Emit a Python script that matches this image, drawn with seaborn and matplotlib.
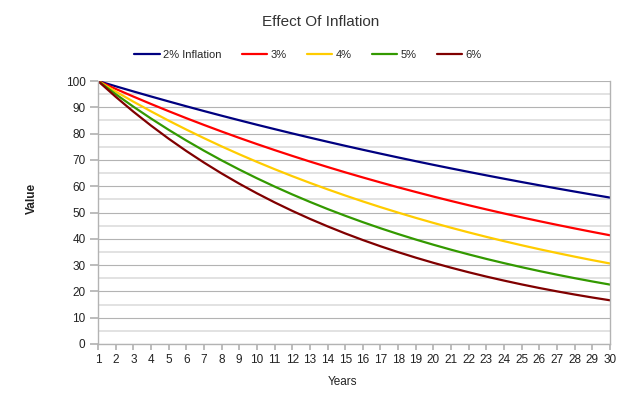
import matplotlib
matplotlib.use("Agg")
import matplotlib.pyplot as plt
import seaborn as sns
import pandas as pd

years = list(range(1, 31))
series_names = ["2% Inflation", "3%", "4%", "5%", "6%"]
infl_2 = [100, 98.0, 96.04, 94.12, 92.24, 90.39, 88.58, 86.81, 85.08, 83.37,
          81.71, 80.07, 78.47, 76.90, 75.36, 73.86, 72.38, 70.93, 69.51, 68.12,
          66.76, 65.43, 64.12, 62.84, 61.58, 60.35, 59.14, 57.96, 56.80, 55.67]
infl_3 = [100, 97.0, 94.09, 91.27, 88.53, 85.87, 83.30, 80.80, 78.37, 76.02,
          73.74, 71.53, 69.38, 67.30, 65.28, 63.33, 61.43, 59.58, 57.80, 56.06,
          54.38, 52.75, 51.17, 49.63, 48.14, 46.70, 45.30, 43.94, 42.62, 41.34]
infl_4 = [100, 96.0, 92.16, 88.47, 84.93, 81.54, 78.28, 75.14, 72.14, 69.25,
          66.48, 63.82, 61.27, 58.82, 56.47, 54.21, 52.04, 49.96, 47.96, 46.04,
          44.20, 42.43, 40.73, 39.10, 37.54, 36.04, 34.60, 33.21, 31.88, 30.61]
infl_5 = [100, 95.0, 90.25, 85.74, 81.45, 77.38, 73.51, 69.83, 66.34, 63.02,
          59.87, 56.88, 54.04, 51.33, 48.77, 46.33, 44.01, 41.81, 39.72, 37.74,
          35.85, 34.06, 32.35, 30.74, 29.20, 27.74, 26.35, 25.03, 23.78, 22.59]
infl_6 = [100, 94.0, 88.36, 83.06, 78.07, 73.39, 68.99, 64.85, 60.96, 57.30,
          53.86, 50.63, 47.59, 44.74, 42.05, 39.53, 37.16, 34.93, 32.83, 30.86,
          29.01, 27.27, 25.63, 24.10, 22.65, 21.29, 20.01, 18.81, 17.68, 16.62]
colors = ["#000080", "#ff0000", "#ffcc00", "#339900", "#800000"]

sns.set_theme(style="white")
plt.rcParams["font.family"] = ["Liberation Sans", "DejaVu Sans"]

rows = []
for name, vals in zip(series_names, [infl_2, infl_3, infl_4, infl_5, infl_6]):
    for y, v in zip(years, vals):
        rows.append({"Years": y, "Value": v, "Series": name})
df = pd.DataFrame(rows)

fig = plt.figure(figsize=(6.39, 3.96), dpi=100)
ax = fig.add_axes([98/639, 1-344/396, (610-98)/639, (344-81)/396])

sns.lineplot(data=df, x="Years", y="Value", hue="Series", hue_order=series_names,
             palette=colors, linewidth=1.6, ax=ax)

ax.set_xlim(1, 30)
ax.set_ylim(0, 100)
ax.set_xticks(years)
ax.set_yticks(range(0, 101, 10))
ax.set_yticks(range(5, 100, 10), minor=True)
ax.grid(True, axis="y", which="major", color="#b3b3b3", linewidth=0.8)
ax.grid(True, axis="y", which="minor", color="#dddddd", linewidth=1.2)
ax.set_axisbelow(True)
for side in ["left", "right", "bottom"]:
    ax.spines[side].set_color("#b3b3b3")
    ax.spines[side].set_linewidth(1.0)
ax.spines["top"].set_visible(False)
ax.tick_params(axis="x", which="major", direction="out", length=4, color="#b3b3b3",
               labelsize=8.5, labelcolor="#222222", pad=3, bottom=True)
ax.tick_params(axis="y", which="major", direction="out", length=6, color="#b3b3b3",
               labelsize=8.5, labelcolor="#222222", pad=3, left=True)
ax.tick_params(axis="y", which="minor", left=False)

ax.set_xlabel("Years", fontsize=8.5, color="#222222")
ax.xaxis.set_label_coords((342-98)/(610-98), -32/263)
ax.set_ylabel("Value", fontsize=8.5, fontweight="bold", color="#222222")
ax.yaxis.set_label_coords(-60/512, (344-198)/263)

fig.text(321/639, 1-22/396, "Effect Of Inflation", ha="center", va="center",
         fontsize=11, color="#333333")

sns.move_legend(ax, "center", bbox_to_anchor=(308/639, 1-55/396),
                bbox_transform=fig.transFigure, ncol=5, frameon=False, title=None,
                fontsize=8, handlelength=2.3, handletextpad=0.3, columnspacing=1.8)

fig.savefig("out.png", dpi=100)
